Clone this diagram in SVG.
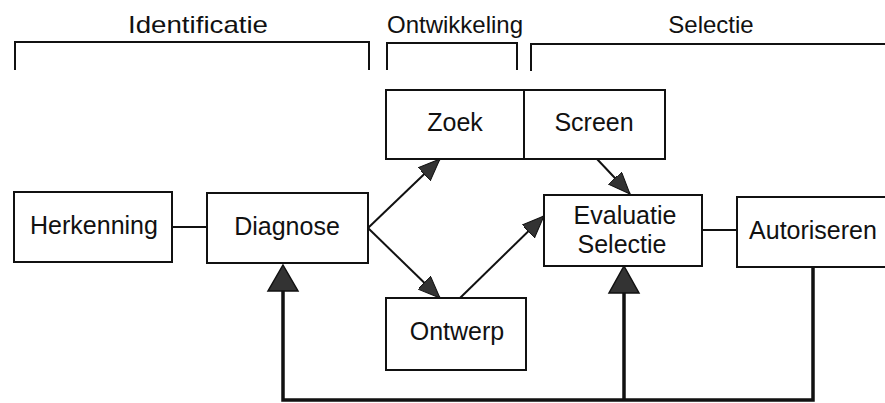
<svg xmlns="http://www.w3.org/2000/svg" width="885" height="403" viewBox="0 0 885 403">
  <style>
    .box { fill: #fff; stroke: #111; stroke-width: 2; }
    .lbl { font-family: "Liberation Sans", Arial, sans-serif; font-size: 25px; fill: #111; text-anchor: middle; }
    .hdr { font-family: "Liberation Sans", Arial, sans-serif; font-size: 24px; fill: #111; text-anchor: middle; }
    .brk { fill: none; stroke: #111; stroke-width: 2; }
    .ln { fill: none; stroke: #111; stroke-width: 2; }
    .arr { fill: none; stroke: #111; stroke-width: 2; marker-end: url(#head); }
    .fb { fill: none; stroke: #111; stroke-width: 3.5; }
    .tri { fill: #333; stroke: #111; stroke-width: 1.5; stroke-linejoin: miter; }
  </style>
  <defs>
    <marker id="head" markerUnits="userSpaceOnUse" markerWidth="24" markerHeight="20" refX="22" refY="9" orient="auto">
      <path d="M0,0 L22,9 L0,18 Z" fill="#333" stroke="#111" stroke-width="1"/>
    </marker>
  </defs>
  <rect width="885" height="403" fill="#fff"/>

  <!-- phase headers and brackets -->
  <g id="phase-identificatie">
    <text class="hdr" x="198" y="33" textLength="140" lengthAdjust="spacingAndGlyphs">Identificatie</text>
    <path class="brk" d="M15,70 V42 H369 V70"/>
  </g>
  <g id="phase-ontwikkeling">
    <text class="hdr" x="455" y="33">Ontwikkeling</text>
    <path class="brk" d="M387,70 V43 H517 V70"/>
  </g>
  <g id="phase-selectie">
    <text class="hdr" x="711" y="33">Selectie</text>
    <path class="brk" d="M531,71 V44 H886"/>
  </g>

  <!-- connectors -->
  <g id="connectors">
    <line class="ln" x1="172" y1="227" x2="207" y2="227"/>
    <line class="ln" x1="702" y1="230" x2="737" y2="230"/>
    <line class="arr" x1="368" y1="228" x2="440" y2="159"/>
    <line class="arr" x1="368" y1="228" x2="440" y2="298"/>
    <line class="arr" x1="460" y1="298" x2="544" y2="216"/>
    <line class="arr" x1="597" y1="159" x2="630" y2="194"/>
    <!-- feedback from Autoriseren -->
    <path class="fb" d="M813,267 V400 H283 V290"/>
    <line class="fb" x1="624" y1="400" x2="624" y2="292"/>
    <polygon class="tri" points="283,265 298,291 268,291"/>
    <polygon class="tri" points="624,266 639,293 609,293"/>
  </g>

  <!-- nodes -->
  <g id="herkenning">
    <rect class="box" x="14" y="192" width="158" height="70"/>
    <text class="lbl" x="94" y="234">Herkenning</text>
  </g>
  <g id="diagnose">
    <rect class="box" x="207" y="193" width="161" height="70"/>
    <text class="lbl" x="287" y="235">Diagnose</text>
  </g>
  <g id="zoek">
    <rect class="box" x="386" y="90" width="138" height="69"/>
    <text class="lbl" x="455" y="131">Zoek</text>
  </g>
  <g id="screen">
    <rect class="box" x="524" y="90" width="141" height="69"/>
    <text class="lbl" x="594" y="131">Screen</text>
  </g>
  <g id="ontwerp">
    <rect class="box" x="386" y="298" width="140" height="72"/>
    <text class="lbl" x="457" y="340">Ontwerp</text>
  </g>
  <g id="evaluatie-selectie">
    <rect class="box" x="544" y="195" width="158" height="71"/>
    <text class="lbl" x="625" y="224">Evaluatie</text>
    <text class="lbl" x="622" y="253">Selectie</text>
  </g>
  <g id="autoriseren">
    <rect class="box" x="737" y="197" width="150" height="70"/>
    <text class="lbl" x="813" y="239">Autoriseren</text>
  </g>
</svg>
